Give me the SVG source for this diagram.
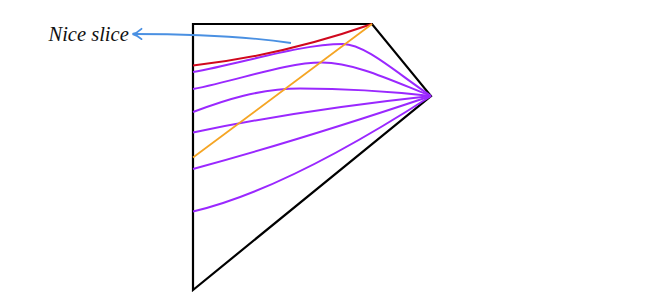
<svg xmlns="http://www.w3.org/2000/svg" width="662" height="301" viewBox="0 0 662 301">
  <defs>
    <style>
      .edge{fill:none;stroke:#000;stroke-width:2.2;stroke-linejoin:miter}
      .slice{fill:none;stroke:#9a28ff;stroke-width:2}
      .nice{fill:none;stroke:#d0081e;stroke-width:2}
      .diag{fill:none;stroke:#f5a524;stroke-width:1.8}
      .pointer{fill:none;stroke:#4a90e2;stroke-width:1.9}
      .label{font-family:"Liberation Serif","DejaVu Serif",serif;font-style:italic;font-size:20.5px;fill:#111}
    </style>
    <marker id="head" markerWidth="14" markerHeight="14" refX="9.5" refY="6" orient="auto" markerUnits="userSpaceOnUse">
      <path d="M1,0.8 Q5.5,5 10,6 Q5.5,7 1,11.2" fill="none" stroke="#4a90e2" stroke-width="1.8" stroke-linecap="round"/>
    </marker>
  </defs>
  <rect width="662" height="301" fill="#fff"/>
  <g id="region">
    <path class="edge" d="M193,290 L193,24 L372,24 L431,96 Z"/>
  </g>
  <g id="connectors">
    <path class="slice" d="M193,72 C240,64 300,44 343,44 C365,44 398,74 431,96"/>
    <path class="slice" d="M193,89 C240,80 285,62.5 322,62.5 C355,62.5 395,82 431,96"/>
    <path class="slice" d="M193,112 C225,100 260,88.5 300,88.5 C350,88.5 395,92 431,96"/>
    <path class="slice" d="M193,132.5 Q300,110 431,96"/>
    <path class="slice" d="M193,169 Q300,140 431,96"/>
    <path class="slice" d="M193,211.5 Q285,190 431,96"/>
    <path class="nice" d="M193,65.5 Q282,55.5 372,24"/>
    <path class="diag" d="M372,24 L193,157.5"/>
  </g>
  <g id="label">
    <path class="pointer" d="M291,43 Q230,34 133,34" marker-end="url(#head)"/>
    <text class="label" x="48.5" y="40.5">Nice slice</text>
  </g>
</svg>
